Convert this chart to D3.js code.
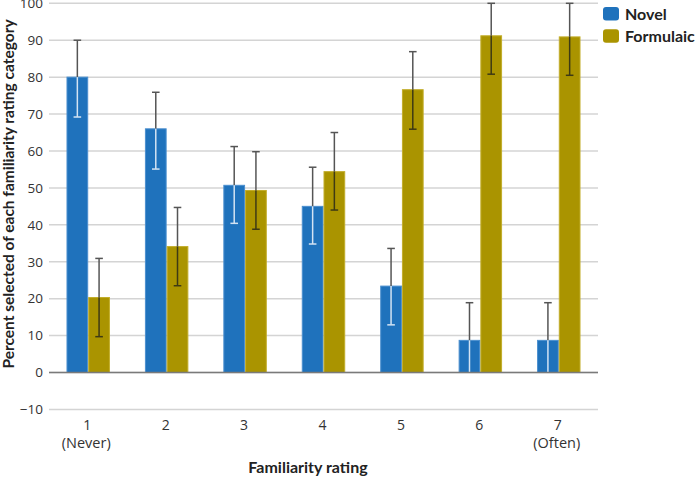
<!DOCTYPE html>
<html>
<head>
<meta charset="utf-8">
<script src="https://cdn.jsdelivr.net/npm/d3@7"></script>
<style>
  body { margin: 0; background: #fff; }
  svg text { font-family: Lato, "Open Sans", sans-serif; fill: #222; }
  svg text.tick-label { font-family: "Open Sans", Lato, sans-serif; fill: #333; }
</style>
</head>
<body>
<div class="chart"></div>
<script>
// data
var categories = ["1", "2", "3", "4", "5", "6", "7"];
var subLabels = ["(Never)", "", "", "", "", "", "(Often)"];
var seriesNames = ["Novel", "Formulaic"];

var novel = [80, 66, 50.7, 45, 23.4, 8.7, 8.7];
var novelLow = [69.2, 55.1, 40.4, 34.8, 12.9, -1.5, -1.5];
var novelHigh = [90, 75.9, 61.2, 55.6, 33.6, 18.9, 18.9];

var formulaic = [20.3, 34.1, 49.3, 54.4, 76.6, 91.2, 90.9];
var formulaicLow = [9.7, 23.5, 38.8, 44.0, 65.9, 80.8, 80.5];
var formulaicHigh = [30.9, 44.7, 59.8, 65.0, 86.9, 100, 100];

var yTicks = [-10, 0, 10, 20, 30, 40, 50, 60, 70, 80, 90, 100];

var colors = { Novel: "#1f72bc", Formulaic: "#aa9400" };
var edges = { Novel: "#4b8fcf", Formulaic: "#c2ad2a" };

var svgWidth = 696;
var svgHeight = 478;

var svg = d3.select(".chart")
    .append("svg")
    .attr("width", svgWidth)
    .attr("height", svgHeight);

// scales
var x = d3.scaleBand()
    .domain(categories)
    .range([49, 598])
    .paddingInner(0.446)
    .paddingOuter(0.223);

var xSub = d3.scaleBand()
    .domain(seriesNames)
    .range([0, x.bandwidth()]);

var y = d3.scaleLinear()
    .domain([-10, 100])
    .range([409.4, 3.3]);

// gridlines
svg.append("g")
    .selectAll("line")
    .data(yTicks)
    .enter()
    .append("line")
    .attr("x1", 49)
    .attr("x2", 598)
    .attr("y1", function(d) { return y(d); })
    .attr("y2", function(d) { return y(d); })
    .attr("stroke", "#d4d4d4")
    .attr("stroke-width", 1.5);

// y axis labels
var yAxis = d3.axisLeft(y).tickValues(yTicks).tickSize(0).tickPadding(0);
var yG = svg.append("g")
    .attr("transform", "translate(43,0)")
    .call(yAxis);
yG.select(".domain").remove();
yG.attr("font-family", null).attr("font-size", null);
yG.selectAll("text")
    .attr("class", "tick-label")
    .style("font-size", "13.5px");

// build rows
var rows = categories.map(function(c, i) {
    return [
        { cat: c, key: "Novel", value: novel[i], lo: novelLow[i], hi: novelHigh[i] },
        { cat: c, key: "Formulaic", value: formulaic[i], lo: formulaicLow[i], hi: formulaicHigh[i] }
    ];
});
var flat = d3.merge(rows);

var chart = svg.append("g");

// bars
chart.selectAll("rect.bar")
    .data(flat)
    .enter()
    .append("rect")
    .attr("class", "bar")
    .attr("x", function(d) { return x(d.cat) + xSub(d.key) + 0.5; })
    .attr("width", xSub.bandwidth() - 1)
    .attr("y", function(d) { return y(d.value); })
    .attr("height", function(d) { return y(0) - y(d.value); })
    .attr("fill", function(d) { return colors[d.key]; })
    .attr("stroke", function(d) { return edges[d.key]; })
    .attr("stroke-width", 1);

// error bars
function cx(d) { return x(d.cat) + xSub(d.key) + xSub.bandwidth() / 2; }
var capW = 3.8;

flat.forEach(function(d) {
    var g = chart.append("g");
    var xc = cx(d);
    var outer = "#555";
    var inner = d.key === "Novel" ? "#d3e3f3" : "#3e3a14";
    // part above bar
    g.append("line")
        .attr("x1", xc).attr("x2", xc)
        .attr("y1", y(d.hi)).attr("y2", y(d.value))
        .attr("stroke", outer).attr("stroke-width", 1.5);
    // part inside bar
    g.append("line")
        .attr("x1", xc).attr("x2", xc)
        .attr("y1", y(d.value)).attr("y2", y(Math.max(d.lo, 0)))
        .attr("stroke", inner).attr("stroke-width", 1.5);
    // caps
    g.append("line")
        .attr("x1", xc - capW).attr("x2", xc + capW)
        .attr("y1", y(d.hi)).attr("y2", y(d.hi))
        .attr("stroke", outer).attr("stroke-width", 1.5);
    if (d.lo >= 0) {
        g.append("line")
            .attr("x1", xc - capW).attr("x2", xc + capW)
            .attr("y1", y(d.lo)).attr("y2", y(d.lo))
            .attr("stroke", inner).attr("stroke-width", 1.5);
    }
});

// zero line
svg.append("line")
    .attr("x1", 49)
    .attr("x2", 598)
    .attr("y1", y(0))
    .attr("y2", y(0))
    .attr("stroke", "#7a7a7a")
    .attr("stroke-width", 1.5);

// x tick labels
var xLabels = svg.append("g");
xLabels.selectAll("text.num")
    .data(categories)
    .enter()
    .append("text")
    .attr("class", "tick-label")
    .attr("x", function(d) { return x(d) + x.bandwidth() / 2 - 1; })
    .attr("y", 429.5)
    .attr("text-anchor", "middle")
    .style("font-size", "14px")
    .text(function(d) { return d; });

xLabels.selectAll("text.sub")
    .data(categories)
    .enter()
    .append("text")
    .attr("class", "tick-label")
    .attr("x", function(d) { return x(d) + x.bandwidth() / 2 - 2; })
    .attr("y", 448)
    .attr("text-anchor", "middle")
    .style("font-size", "14.5px")
    .text(function(d, i) { return subLabels[i]; });

// axis titles
svg.append("text")
    .attr("x", 308)
    .attr("y", 473)
    .attr("text-anchor", "middle")
    .style("font-size", "16px")
    .style("font-weight", "bold")
    .text("Familiarity rating");

svg.append("text")
    .attr("transform", "translate(13.5,194) rotate(-90)")
    .attr("text-anchor", "middle")
    .style("font-size", "15.5px")
    .style("font-weight", "bold")
    .text("Percent selected of each familiarity rating category");

// legend
var legend = svg.append("g")
    .selectAll("g")
    .data(seriesNames)
    .enter()
    .append("g")
    .attr("transform", function(d, i) { return "translate(603," + (7 + i * 22.3) + ")"; });

legend.append("rect")
    .attr("width", 16)
    .attr("height", 13.5)
    .attr("rx", 3)
    .attr("fill", function(d) { return colors[d]; });

legend.append("text")
    .attr("x", 22)
    .attr("y", 12.5)
    .style("font-size", "16px")
    .style("font-weight", "bold")
    .text(function(d) { return d; });
</script>
</body>
</html>
